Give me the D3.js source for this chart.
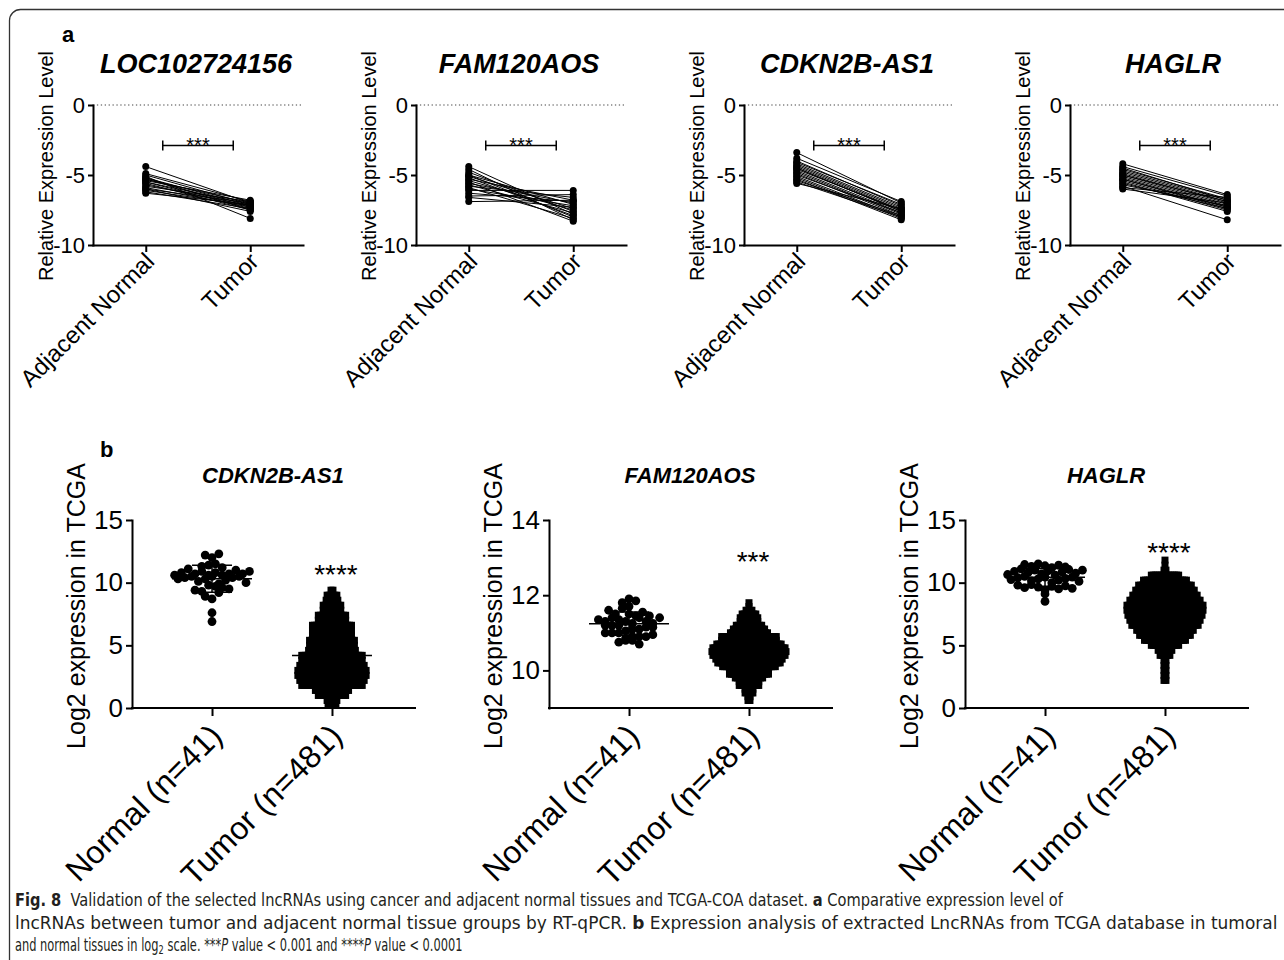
<!DOCTYPE html>
<html>
<head>
<meta charset="utf-8">
<script src="https://cdn.jsdelivr.net/npm/d3@7"></script>
<style>
  body { margin: 0; background: #fff; }
  svg { display: block; }
</style>
</head>
<body>
<svg width="1284" height="960"></svg>
<script>
// ---- panel a : paired RT-qPCR values (log relative expression) ----
const genesA = ["LOC102724156", "FAM120AOS", "CDKN2B-AS1", "HAGLR"];
const groupsA = ["Adjacent Normal", "Tumor"];
const ticksA = [0, -5, -10];

const locNormal = [-4.4, -4.9, -5.0, -5.1, -5.2, -5.3, -5.3, -5.4, -5.5, -5.5, -5.6, -5.7, -5.8, -5.9, -6.0, -6.0, -6.1, -6.2, -6.3, -5.2];
const locTumor  = [-7.0, -6.9, -7.1, -8.1, -7.2, -7.0, -7.3, -6.8, -7.4, -7.1, -7.5, -7.2, -6.9, -7.3, -7.6, -7.0, -7.2, -7.4, -7.1, -7.5];
const famNormal = [-4.4, -4.6, -4.8, -5.0, -5.1, -5.2, -5.3, -5.4, -5.5, -5.6, -5.7, -5.8, -6.0, -6.1, -6.3, -6.5, -6.6, -6.9, -5.9, -5.0];
const famTumor  = [-7.8, -8.2, -7.6, -8.0, -7.4, -7.9, -6.8, -7.5, -8.3, -7.0, -7.7, -6.6, -7.2, -6.1, -6.9, -6.4, -7.3, -6.8, -8.1, -7.1];
const cdkNormal = [-3.4, -3.8, -4.0, -4.1, -4.2, -4.3, -4.4, -4.5, -4.6, -4.7, -4.8, -4.9, -5.0, -5.1, -5.2, -5.3, -5.4, -5.5, -5.6, -4.5];
const cdkTumor  = [-7.0, -6.9, -7.2, -7.1, -7.3, -7.4, -7.5, -7.6, -7.5, -7.7, -7.8, -7.9, -7.7, -8.0, -8.1, -8.2, -7.9, -8.0, -7.4, -7.6];
const hagNormal = [-4.2, -4.4, -4.6, -4.7, -4.8, -4.9, -5.0, -5.1, -5.2, -5.3, -5.4, -5.5, -5.6, -5.7, -5.8, -5.9, -6.0, -5.3, -5.0, -4.5];
const hagTumor  = [-6.4, -6.5, -6.7, -6.8, -6.9, -7.0, -7.1, -7.2, -7.3, -7.4, -7.5, -7.6, -7.4, -7.2, -8.2, -6.6, -7.0, -7.3, -6.9, -6.8];
const bracketA = -2.9;

// ---- panel b : TCGA log2 expression ----
const genesB = ["CDKN2B-AS1", "FAM120AOS", "HAGLR"];
const groupsB = ["Normal (n=41)", "Tumor (n=481)"];
const domainsB = [[0, 15], [9, 14], [0, 15]];
const ticksB = [[0, 5, 10, 15], [10, 12, 14], [0, 5, 10, 15]];
const starsB = ["****", "***", "****"];
const starValB = [10.9, 13.0, 12.7];

const cdkNormalB = [12.3, 12.2, 12.0, 11.5, 11.4, 11.3, 11.2, 11.1, 11.0, 10.9, 10.9, 10.8, 10.8, 10.7, 10.7, 10.7, 10.6, 10.6, 10.6, 10.5, 10.5,
  10.5, 10.4, 10.4, 10.3, 10.3, 10.2, 10.1, 10.0, 9.9, 9.8, 9.7, 9.6, 9.5, 9.4, 9.3, 9.2, 8.9, 8.7, 7.6, 6.9];
const famNormalB = [11.9, 11.85, 11.8, 11.7, 11.65, 11.6, 11.55, 11.5, 11.5, 11.45, 11.45, 11.4, 11.4, 11.4, 11.35, 11.35, 11.3, 11.3, 11.3, 11.25, 11.25,
  11.2, 11.2, 11.2, 11.15, 11.15, 11.1, 11.1, 11.05, 11.0, 11.0, 10.95, 10.9, 10.9, 10.85, 10.8, 10.8, 10.75, 10.9, 11.0, 10.7];
const hagNormalB = [11.5, 11.45, 11.4, 11.35, 11.3, 11.25, 11.2, 11.1, 11.05, 11.0, 11.0, 10.95, 10.9, 10.85, 10.8, 10.75, 10.7, 10.65, 10.6,
  10.5, 10.45, 10.45, 10.4, 10.35, 10.3, 10.25, 10.2, 10.15, 10.1, 10.0, 9.85, 9.8, 9.75, 9.7, 9.65, 9.6, 9.55, 9.5, 9.4, 9.1, 8.5];

// tumour column read as rows of the column scatter: row value and number of samples in it
const cdkTumorRows   = [9.4, 9.0, 8.6, 8.2, 7.8, 7.4, 7.0, 6.6, 6.2, 5.8, 5.4, 5.0, 4.6, 4.2, 3.8, 3.4, 3.0, 2.6, 2.2, 1.8, 1.4, 1.0, 0.6, 0.2];
const cdkTumorCounts = [2, 6, 7, 10, 10, 15, 15, 21, 21, 21, 24, 24, 25, 32, 32, 34, 36, 36, 34, 32, 18, 15, 6, 5];
const famTumorRows   = [11.8, 11.7, 11.6, 11.5, 11.4, 11.3, 11.2, 11.1, 11.0, 10.9, 10.8, 10.7, 10.6, 10.5, 10.4, 10.3, 10.2, 10.1, 10.0, 9.9, 9.8, 9.7, 9.6, 9.5, 9.4, 9.3, 9.2];
const famTumorCounts = [1, 1, 4, 8, 10, 10, 14, 17, 20, 29, 29, 34, 38, 39, 38, 35, 33, 28, 21, 21, 15, 11, 11, 5, 5, 2, 2];
const hagTumorRows   = [11.8, 11.4, 11.0, 10.6, 10.2, 9.8, 9.4, 9.0, 8.6, 8.2, 7.8, 7.4, 7.0, 6.6, 6.2, 5.8, 5.4, 5.0, 4.6, 4.2, 3.8, 3.4, 3.0, 2.6, 2.2];
const hagTumorCounts = [1, 1, 2, 15, 23, 28, 31, 34, 37, 40, 40, 39, 37, 35, 30, 27, 22, 15, 8, 6, 2, 2, 2, 2, 2];

const FONT = "'Liberation Sans', Arial, Helvetica, sans-serif";
const svg = d3.select("svg");

// frame (bottom edge lies below the picture)
svg.append("rect")
    .attr("x", 9.5).attr("y", 9.5)
    .attr("width", 1300).attr("height", 962)
    .attr("rx", 11)
    .attr("fill", "none")
    .attr("stroke", "#333")
    .attr("stroke-width", 1.3);

function styleAxis(sel) {
    sel.select(".domain").attr("stroke", "#000").attr("stroke-width", 2).attr("stroke-linecap", "square");
    sel.selectAll(".tick line").attr("stroke", "#000").attr("stroke-width", 2);
    sel.selectAll("text").attr("fill", "#000").attr("font-family", FONT);
}

// ================= panel a =================
svg.append("text").attr("x", 62).attr("y", 42)
    .attr("font-family", FONT).attr("font-weight", "bold").attr("font-size", 22).text("a");

const pairsA = [[locNormal, locTumor], [famNormal, famTumor], [cdkNormal, cdkTumor], [hagNormal, hagTumor]];
const aLeft = [93, 416, 744, 1070];
const aTop = 105, aBottom = 245, aWidth = 210;

genesA.forEach((gene, i) => {
    const x0 = aLeft[i];
    const g = svg.append("g");
    const y = d3.scaleLinear().domain([-10, 0]).range([aBottom, aTop]);
    const x = d3.scalePoint().domain(groupsA).range([x0, x0 + aWidth]).padding(0.505);

    g.append("text")
        .attr("x", x0 + 103).attr("y", 73)
        .attr("text-anchor", "middle")
        .attr("font-family", FONT).attr("font-size", 27)
        .attr("font-weight", "bold").attr("font-style", "italic")
        .text(gene);

    g.append("text")
        .attr("transform", `translate(${x0 - 40},166) rotate(-90)`)
        .attr("text-anchor", "middle")
        .attr("font-family", FONT).attr("font-size", 20)
        .text("Relative Expression Level");

    g.append("line")
        .attr("x1", x0).attr("x2", x0 + aWidth)
        .attr("y1", y(0)).attr("y2", y(0))
        .attr("stroke", "#444").attr("stroke-width", 1.2)
        .attr("stroke-dasharray", "1.3,2.6");

    const yAxis = g.append("g").attr("transform", `translate(${x0},0)`)
        .call(d3.axisLeft(y).tickValues(ticksA).tickSizeInner(5).tickSizeOuter(0).tickPadding(3).tickFormat(d => String(d)));
    styleAxis(yAxis);
    yAxis.selectAll("text").attr("font-size", 22);

    const xAxis = g.append("g").attr("transform", `translate(0,${aBottom})`)
        .call(d3.axisBottom(x).tickSizeInner(7).tickSizeOuter(0).tickFormat(""));
    styleAxis(xAxis);

    groupsA.forEach(c => {
        g.append("text")
            .attr("transform", `translate(${x(c) + 10},${aBottom + 18}) rotate(-45)`)
            .attr("text-anchor", "end")
            .attr("font-family", FONT).attr("font-size", 24)
            .text(c);
    });

    const [nv, tv] = pairsA[i];
    g.selectAll(".pair").data(d3.range(nv.length)).enter().append("line")
        .attr("x1", x(groupsA[0])).attr("y1", k => y(nv[k]))
        .attr("x2", x(groupsA[1])).attr("y2", k => y(tv[k]))
        .attr("stroke", "#000").attr("stroke-width", 1);
    g.selectAll(".ptN").data(nv).enter().append("circle")
        .attr("cx", x(groupsA[0])).attr("cy", d => y(d)).attr("r", 3.5).attr("fill", "#000");
    g.selectAll(".ptT").data(tv).enter().append("circle")
        .attr("cx", x(groupsA[1])).attr("cy", d => y(d)).attr("r", 3.5).attr("fill", "#000");

    // significance bracket
    const bx1 = x(groupsA[0]) + 17, bx2 = x(groupsA[1]) - 17, by = y(bracketA);
    const br = g.append("g").attr("stroke", "#000").attr("stroke-width", 1.5);
    br.append("line").attr("x1", bx1).attr("x2", bx2).attr("y1", by).attr("y2", by);
    br.append("line").attr("x1", bx1).attr("x2", bx1).attr("y1", by - 5).attr("y2", by + 5);
    br.append("line").attr("x1", bx2).attr("x2", bx2).attr("y1", by - 5).attr("y2", by + 5);
    g.append("text")
        .attr("x", (bx1 + bx2) / 2).attr("y", by + 6)
        .attr("text-anchor", "middle")
        .attr("font-family", FONT).attr("font-size", 20)
        .text("***");
});

// ================= panel b =================
svg.append("text").attr("x", 100).attr("y", 457)
    .attr("font-family", FONT).attr("font-weight", "bold").attr("font-size", 22).text("b");

const normalB = [cdkNormalB, famNormalB, hagNormalB];
const tumorRowsB = [[cdkTumorRows, cdkTumorCounts], [famTumorRows, famTumorCounts], [hagTumorRows, hagTumorCounts]];
const bLeft = [132, 549, 965];
const bTop = 520, bBottom = 708, bWidth = 280;

function gcd(a, b) { return b ? gcd(b, a % b) : a; }

// column scatter: points grouped in horizontal rows, spread side by side
function columnScatter(vals, y, cx, rowH, step) {
    const rows = d3.group(vals.slice().sort((a, b) => b - a), v => Math.floor((y(v) - bTop) / rowH));
    const pts = [];
    rows.forEach(vs => {
        const n = vs.length;
        const m = [7, 5, 3, 11, 13].find(k => gcd(k, n) === 1) || 1;
        vs.forEach((v, j) => {
            const slot = (j * m + 2) % n;
            pts.push([cx + (slot - (n - 1) / 2) * step, y(v)]);
        });
    });
    return pts;
}

function meanSdLines(g, cx, y, mean, sd) {
    const l = g.append("g").attr("stroke", "#000").attr("stroke-width", 1.5);
    l.append("line").attr("x1", cx - 40).attr("x2", cx + 40).attr("y1", y(mean)).attr("y2", y(mean));
    l.append("line").attr("x1", cx - 20).attr("x2", cx + 20).attr("y1", y(mean + sd)).attr("y2", y(mean + sd));
    l.append("line").attr("x1", cx - 20).attr("x2", cx + 20).attr("y1", y(mean - sd)).attr("y2", y(mean - sd));
    l.append("line").attr("x1", cx).attr("x2", cx).attr("y1", y(mean + sd)).attr("y2", y(mean - sd));
}

genesB.forEach((gene, i) => {
    const x0 = bLeft[i];
    const g = svg.append("g");
    const y = d3.scaleLinear().domain(domainsB[i]).range([bBottom, bTop]);
    const x = d3.scalePoint().domain(groupsB).range([x0, x0 + bWidth]).padding(0.667);

    g.append("text")
        .attr("x", x0 + 141).attr("y", 483)
        .attr("text-anchor", "middle")
        .attr("font-family", FONT).attr("font-size", 22)
        .attr("font-weight", "bold").attr("font-style", "italic")
        .text(gene);

    g.append("text")
        .attr("transform", `translate(${x0 - 47},606) rotate(-90)`)
        .attr("text-anchor", "middle")
        .attr("font-family", FONT).attr("font-size", 25)
        .text("Log2 expression in TCGA");

    const yAxis = g.append("g").attr("transform", `translate(${x0},0)`)
        .call(d3.axisLeft(y).tickValues(ticksB[i]).tickSizeInner(6).tickSizeOuter(0).tickPadding(3).tickFormat(d => String(d)));
    styleAxis(yAxis);
    yAxis.selectAll("text").attr("font-size", 26);

    const xAxis = g.append("g").attr("transform", `translate(0,${bBottom})`)
        .call(d3.axisBottom(x).tickSizeInner(8).tickSizeOuter(0).tickFormat(""));
    styleAxis(xAxis);
    xAxis.select(".domain").attr("d", `M${x0},0H${x0 + 283}`);

    groupsB.forEach(c => {
        g.append("text")
            .attr("transform", `translate(${x(c) + 12},${bBottom + 30}) rotate(-45)`)
            .attr("text-anchor", "end")
            .attr("font-family", FONT).attr("font-size", 32)
            .text(c);
    });

    // normal column: circles
    const nx = x(groupsB[0]);
    const pts = columnScatter(normalB[i], y, nx, 8, 6.8);
    g.selectAll(".n").data(pts).enter().append("circle")
        .attr("cx", d => d[0]).attr("cy", d => d[1]).attr("r", 4.4).attr("fill", "#000");
    meanSdLines(g, nx, y, d3.mean(normalB[i]), d3.deviation(normalB[i]));

    // tumour column: squares, one row per value
    const tx = x(groupsB[1]);
    const [rows, counts] = tumorRowsB[i];
    const side = 7, dx = 1.95;
    const sq = [];
    rows.forEach((v, r) => {
        const n = counts[r];
        for (let j = 0; j < n; j++) sq.push([tx + (j - (n - 1) / 2) * dx, y(v)]);
    });
    g.selectAll(".t").data(sq).enter().append("rect")
        .attr("x", d => d[0] - side / 2).attr("y", d => d[1] - side / 2)
        .attr("width", side).attr("height", side).attr("fill", "#000");
    const total = d3.sum(counts);
    const tMean = d3.sum(rows, (v, r) => v * counts[r]) / total;
    const tSd = Math.sqrt(d3.sum(rows, (v, r) => counts[r] * (v - tMean) ** 2) / (total - 1));
    meanSdLines(g, tx, y, tMean, tSd);

    g.append("text")
        .attr("x", tx + 4).attr("y", y(starValB[i]) + 13)
        .attr("text-anchor", "middle")
        .attr("font-family", FONT).attr("font-size", 28)
        .text(starsB[i]);
});

// ================= caption =================
const captionLines = [
    [["Fig. 8", "b"], ["  Validation of the selected lncRNAs using cancer and adjacent normal tissues and TCGA-COA dataset. ", ""], ["a", "b"], [" Comparative expression level of", ""]],
    [["lncRNAs between tumor and adjacent normal tissue groups by RT-qPCR. ", ""], ["b", "b"], [" Expression analysis of extracted LncRNAs from TCGA database in tumoral", ""]],
    [["and normal tissues in log", ""], ["2", "sub"], [" scale. ***", "up"], ["P", "i"], [" value < 0.001 and ****", ""], ["P", "i"], [" value < 0.0001", ""]]
];
const captionY = [906, 928.5, 950.5];
const captionLen = [1049, 1263, 448];

captionLines.forEach((parts, li) => {
    const t = svg.append("text")
        .attr("x", 0).attr("y", 0)
        .attr("font-family", "'DejaVu Sans Condensed', 'Liberation Sans Narrow', sans-serif")
        .attr("font-size", 18)
        .attr("fill", "#231f20")
        .attr("xml:space", "preserve");
    parts.forEach(([s, f]) => {
        const ts = t.append("tspan").text(s);
        if (f === "b") ts.attr("font-weight", "bold");
        if (f === "i") ts.attr("font-style", "italic");
        if (f === "sub") ts.attr("font-size", 13).attr("dy", 3);
        if (f === "up") ts.attr("dy", -3);
    });
    // squeeze the line horizontally to the width it has in the figure
    const natural = t.node().getComputedTextLength();
    t.attr("transform", `translate(15,${captionY[li]}) scale(${captionLen[li] / natural},1)`);
});
</script>
</body>
</html>
